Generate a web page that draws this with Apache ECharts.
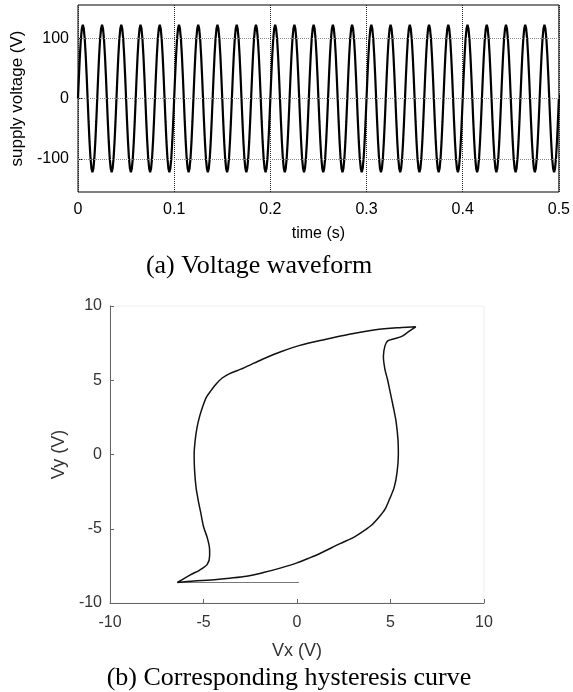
<!DOCTYPE html>
<html><head><meta charset="utf-8">
<script src="https://cdn.jsdelivr.net/npm/echarts@6/dist/echarts.min.js"></script>
<style>html,body{margin:0;padding:0;background:#fff}#c{width:573px;height:692px}</style>
</head><body><div id="c"></div>
<script>
const timeStep = 0.001;
const supplyVoltage = [
  0,38,72,99,116,122,116,99,72,38,0,-38,-72,-99,-116,-122,-116,-99,-72,-38,
  0,38,72,99,116,122,116,99,72,38,0,-38,-72,-99,-116,-122,-116,-99,-72,-38,
  0,38,72,99,116,122,116,99,72,38,0,-38,-72,-99,-116,-122,-116,-99,-72,-38,
  0,38,72,99,116,122,116,99,72,38,0,-38,-72,-99,-116,-122,-116,-99,-72,-38,
  0,38,72,99,116,122,116,99,72,38,0,-38,-72,-99,-116,-122,-116,-99,-72,-38,
  0,38,72,99,116,122,116,99,72,38,0,-38,-72,-99,-116,-122,-116,-99,-72,-38,
  0,38,72,99,116,122,116,99,72,38,0,-38,-72,-99,-116,-122,-116,-99,-72,-38,
  0,38,72,99,116,122,116,99,72,38,0,-38,-72,-99,-116,-122,-116,-99,-72,-38,
  0,38,72,99,116,122,116,99,72,38,0,-38,-72,-99,-116,-122,-116,-99,-72,-38,
  0,38,72,99,116,122,116,99,72,38,0,-38,-72,-99,-116,-122,-116,-99,-72,-38,
  0,38,72,99,116,122,116,99,72,38,0,-38,-72,-99,-116,-122,-116,-99,-72,-38,
  0,38,72,99,116,122,116,99,72,38,0,-38,-72,-99,-116,-122,-116,-99,-72,-38,
  0,38,72,99,116,122,116,99,72,38,0,-38,-72,-99,-116,-122,-116,-99,-72,-38,
  0,38,72,99,116,122,116,99,72,38,0,-38,-72,-99,-116,-122,-116,-99,-72,-38,
  0,38,72,99,116,122,116,99,72,38,0,-38,-72,-99,-116,-122,-116,-99,-72,-38,
  0,38,72,99,116,122,116,99,72,38,0,-38,-72,-99,-116,-122,-116,-99,-72,-38,
  0,38,72,99,116,122,116,99,72,38,0,-38,-72,-99,-116,-122,-116,-99,-72,-38,
  0,38,72,99,116,122,116,99,72,38,0,-38,-72,-99,-116,-122,-116,-99,-72,-38,
  0,38,72,99,116,122,116,99,72,38,0,-38,-72,-99,-116,-122,-116,-99,-72,-38,
  0,38,72,99,116,122,116,99,72,38,0,-38,-72,-99,-116,-122,-116,-99,-72,-38,
  0,38,72,99,116,122,116,99,72,38,0,-38,-72,-99,-116,-122,-116,-99,-72,-38,
  0,38,72,99,116,122,116,99,72,38,0,-38,-72,-99,-116,-122,-116,-99,-72,-38,
  0,38,72,99,116,122,116,99,72,38,0,-38,-72,-99,-116,-122,-116,-99,-72,-38,
  0,38,72,99,116,122,116,99,72,38,0,-38,-72,-99,-116,-122,-116,-99,-72,-38,
  0,38,72,99,116,122,116,99,72,38,0,-38,-72,-99,-116,-122,-116,-99,-72,-38,
  0
];
const voltageTicks = [-100, 0, 100];

// (b) hysteresis loop
const initialVx = [0.1, -6.4];
const initialVy = [-8.62, -8.62];
const loopVx = [-6.4,-5.5,-4.6,-3.6,-2.7,-1.8,-0.9,0,0.6,1.2,2.3,3.0,3.5,4.0,4.4,4.7,4.95,5.2,5.35,5.42,5.4,5.3,5.15,4.95,4.85,4.7,4.62,4.7,4.85,5.2,5.6,5.95,6.35,
  5.6,4.2,2.8,1.5,0.15,-0.9,-1.6,-2.3,-3.0,-3.6,-4.0,-4.3,-4.6,-4.85,-5.05,-5.2,-5.35,-5.45,-5.5,-5.48,-5.4,-5.28,-5.15,-5.0,-4.8,-4.68,-4.67,-4.8,-5.2,-5.7,-6.4];
const loopVy = [-8.62,-8.52,-8.45,-8.33,-8.2,-7.95,-7.65,-7.3,-7.0,-6.68,-6.0,-5.6,-5.2,-4.75,-4.2,-3.7,-3.0,-2.2,-1.2,0,1.0,2.2,3.2,4.4,5.0,5.75,6.6,7.3,7.65,7.8,7.95,8.25,8.6,
  8.55,8.4,8.1,7.75,7.35,6.9,6.55,6.15,5.75,5.45,5.15,4.78,4.3,3.85,3.2,2.6,1.8,0.9,0,-1.0,-2.2,-3.1,-3.9,-4.85,-5.6,-6.3,-6.8,-7.4,-7.78,-8.1,-8.62];

const waveData = supplyVoltage.map((v, i) => [i * timeStep, v]);
const initialData = initialVx.map((x, i) => [x, initialVy[i]]);
const loopData = loopVx.map((x, i) => [x, loopVy[i]]);

const chart = echarts.init(document.getElementById('c'), null, {renderer: 'canvas'});
const sans = 'Liberation Sans, Arial, sans-serif';
const serif = 'Liberation Serif, Times New Roman, serif';
chart.setOption({
  animation: false,
  backgroundColor: '#fff',
  grid: [
    {left: 78, top: 5, width: 483, height: 187, show: true, borderColor: '#000', borderWidth: 1, backgroundColor: 'transparent'},
    {left: 110, top: 306, width: 374, height: 297, show: true, borderColor: '#eeeeee', borderWidth: 1, backgroundColor: 'transparent'}
  ],
  xAxis: [
    {type: 'value', gridIndex: 0, min: 0, max: 0.5, interval: 0.1,
     axisLine: {show: false},
     axisTick: {inside: true, length: 4, lineStyle: {color: '#000'}},
     axisLabel: {fontSize: 16, color: '#000', fontFamily: sans, margin: 10},
     splitLine: {show: true, lineStyle: {type: 'dotted', color: '#222', width: 1}},
     name: 'time (s)', nameLocation: 'middle', nameGap: 34,
     nameTextStyle: {fontSize: 16, color: '#000', fontFamily: sans}},
    {type: 'value', gridIndex: 1, min: -10, max: 10, interval: 5,
     axisLine: {show: true, onZero: false, lineStyle: {color: '#666', width: 1}},
     axisTick: {inside: true, length: 4, lineStyle: {color: '#666'}},
     axisLabel: {fontSize: 16, color: '#333', fontFamily: sans, margin: 12},
     splitLine: {show: false},
     name: 'Vx (V)', nameLocation: 'middle', nameGap: 39,
     nameTextStyle: {fontSize: 18, color: '#333', fontFamily: sans}}
  ],
  yAxis: [
    {type: 'value', gridIndex: 0, min: -155, max: 155,
     axisLine: {show: false},
     axisTick: {inside: true, length: 4, customValues: voltageTicks, lineStyle: {color: '#000'}},
     axisLabel: {fontSize: 16, color: '#000', fontFamily: sans, margin: 9, customValues: voltageTicks},
     splitLine: {show: false},
     name: 'supply voltage (V)', nameLocation: 'middle', nameGap: 51, nameRotate: 90,
     nameTextStyle: {fontSize: 17, color: '#000', fontFamily: sans}},
    {type: 'value', gridIndex: 1, min: -10, max: 10, interval: 5,
     axisLine: {show: true, onZero: false, lineStyle: {color: '#666', width: 1}},
     axisTick: {inside: true, length: 4, lineStyle: {color: '#666'}},
     axisLabel: {fontSize: 16, color: '#333', fontFamily: sans, margin: 8},
     splitLine: {show: false},
     name: 'Vy (V)', nameLocation: 'middle', nameGap: 32, nameRotate: 90,
     nameTextStyle: {fontSize: 18, color: '#333', fontFamily: sans}}
  ],
  series: [
    {type: 'line', xAxisIndex: 0, yAxisIndex: 0, data: waveData, showSymbol: false,
     lineStyle: {color: '#000', width: 2.2}, silent: true,
     markLine: {silent: true, symbol: 'none', label: {show: false},
       lineStyle: {type: 'dotted', color: '#888', width: 1},
       data: voltageTicks.map(v => ({yAxis: v}))}},
    {type: 'line', xAxisIndex: 1, yAxisIndex: 1, data: initialData, showSymbol: false,
     lineStyle: {color: '#777', width: 1}, silent: true},
    {type: 'line', xAxisIndex: 1, yAxisIndex: 1, data: loopData, showSymbol: false, smooth: 0.3,
     lineStyle: {color: '#111', width: 1.5}, silent: true}
  ],
  graphic: [
    {type: 'text', x: 259, y: 266, style: {text: '(a) Voltage waveform', font: '26px ' + serif, fill: '#000', textAlign: 'center', textVerticalAlign: 'middle'}},
    {type: 'text', x: 289, y: 678, style: {text: '(b) Corresponding hysteresis curve', font: '26px ' + serif, fill: '#000', textAlign: 'center', textVerticalAlign: 'middle'}}
  ]
});
</script>
</body></html>
